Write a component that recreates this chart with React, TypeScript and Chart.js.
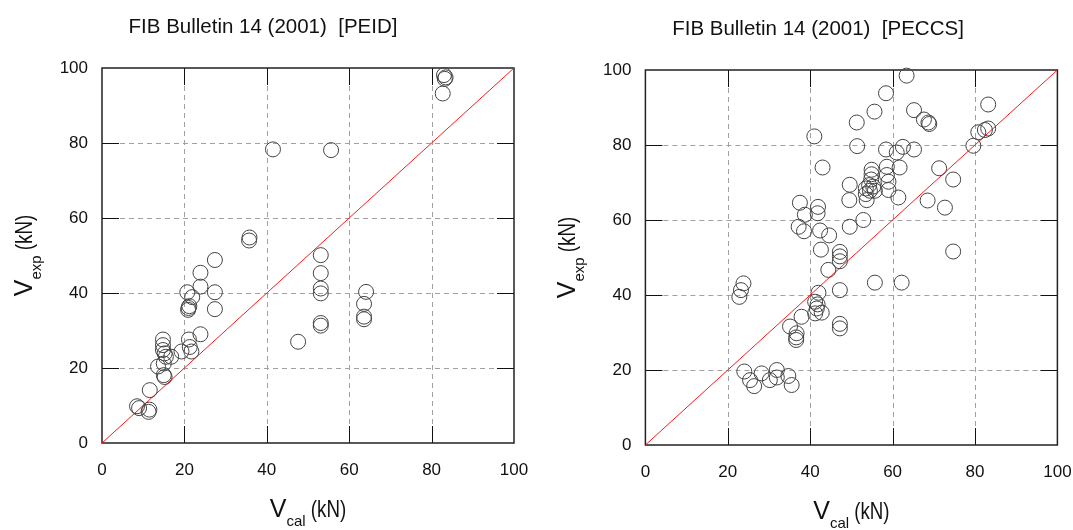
import React, { useEffect, useRef } from "react";
import Chart from "chart.js/auto";

// ---- Data ----
const peidCal = [
  8.5, 9.0, 11.3, 11.5, 11.6, 13.6, 15.0, 15.2, 15.0, 15.5, 14.8, 14.8, 14.8, 15.2, 16.8,
  19.3, 21.1, 21.3, 21.7, 23.9, 20.9, 21.0, 21.2, 21.9, 20.7, 23.9, 23.9, 27.4, 27.4, 27.4,
  35.7, 35.8, 41.5, 47.6, 53.1, 53.1, 53.1, 53.1, 53.1, 53.1, 64.1, 63.6, 63.6, 63.6, 55.6,
  83.0, 83.4, 83.2, 82.7,
];
const peidExp = [
  9.8, 9.3, 8.3, 8.9, 14.1, 20.4, 18.1, 17.6, 21.2, 23.0, 24.8, 26.1, 27.6, 23.9, 23.0,
  24.4, 27.6, 25.6, 24.4, 29.0, 35.5, 36.0, 36.5, 38.9, 40.2, 41.7, 45.4, 48.8, 40.2, 35.7,
  54.0, 54.8, 78.3, 27.0, 50.1, 45.3, 41.2, 39.9, 32.0, 31.3, 40.3, 37.1, 33.7, 33.0, 78.1,
  98.1, 97.5, 97.1, 93.2,
];

const peccsCal = [
  63.4, 58.4, 55.6, 51.3, 65.2, 67.6, 68.7, 68.9, 83.2, 80.8, 82.4, 83.2, 79.6, 41.0, 51.4,
  58.4, 61.0, 62.5, 65.2, 43.0, 58.6, 58.6, 61.7, 71.3, 74.7,
  54.9, 54.9, 54.8, 54.3, 55.3, 53.5, 54.5, 55.7, 53.5, 53.7,
  49.6, 49.5, 59.0, 59.0, 61.4, 68.5, 72.7, 52.9, 49.6, 74.7,
  37.5, 41.9, 41.8, 38.7, 37.2, 38.5, 42.4, 44.6, 42.6, 47.2, 47.2, 47.2,
  44.4, 47.2, 42.0, 41.2, 41.8, 41.6, 42.8, 41.2, 37.9, 35.1, 36.7, 36.6, 36.6, 47.2, 47.2,
  55.7, 62.2, 23.8, 23.2, 22.8,
  24.0, 25.4, 26.4, 28.2, 30.2, 31.9, 31.9, 34.7, 35.5,
];
const peccsExp = [
  98.5, 93.8, 88.9, 86.0, 89.3, 86.8, 86.0, 85.6, 90.8, 83.4, 84.0, 84.4, 79.8, 82.3, 79.7,
  78.8, 78.0, 79.5, 78.8, 74.0, 74.2, 72.0, 74.0, 73.8, 70.8,
  73.4, 72.2, 70.8, 69.3, 68.9, 68.4, 67.8, 67.8, 66.9, 65.3,
  69.4, 65.3, 70.2, 68.0, 66.0, 65.2, 63.3, 60.0, 58.2, 51.6,
  64.6, 63.5, 61.8, 61.4, 58.2, 57.0, 57.2, 55.9, 52.1, 51.5, 50.3, 49.0,
  46.7, 41.3, 40.6, 38.2, 37.5, 36.4, 35.3, 35.1, 34.2, 31.6, 29.8, 28.7, 28.0, 32.3, 31.1,
  43.3, 43.3, 43.1, 41.3, 39.5,
  19.6, 17.3, 15.7, 19.1, 17.3, 20.0, 18.0, 18.4, 16.0,
];

const axisMin = 0;
const axisMax = 100;
const axisStep = 20;
const gridValues = [20, 40, 60, 80];
const diagonal = [0, 100];

const titleLeft = "FIB Bulletin 14 (2001)  [PEID]";
const titleRight = "FIB Bulletin 14 (2001)  [PECCS]";

const FONT = '"Liberation Sans", Arial, sans-serif';
const CANVAS_W = 560;
const CANVAS_H = 530;

type Part = { text: string; size: number; dy: number; sx: number };
const labelParts = (sub: string): Part[] => [
  { text: "V", size: 25, dy: 0, sx: 1 },
  { text: sub, size: 15, dy: 9, sx: 1 },
  { text: " (kN)", size: 24, dy: 0, sx: 0.78 },
];

function drawParts(ctx: CanvasRenderingContext2D, parts: Part[]) {
  let total = 0;
  const widths = parts.map((p) => {
    ctx.font = `${p.size}px ${FONT}`;
    const w = ctx.measureText(p.text).width * p.sx;
    total += w;
    return w;
  });
  let cx = -total / 2;
  parts.forEach((p, i) => {
    ctx.save();
    ctx.font = `${p.size}px ${FONT}`;
    ctx.translate(cx, p.dy);
    ctx.scale(p.sx, 1);
    ctx.fillText(p.text, 0, 0);
    ctx.restore();
    cx += widths[i];
  });
}

function makeDecor(title: string, titleX: number, titleY: number) {
  return {
    id: "decor",
    beforeDatasetsDraw(chart: any) {
      const { ctx, chartArea: a, scales } = chart;
      const xs = scales.x;
      const ys = scales.y;
      ctx.save();
      // dashed grid
      ctx.strokeStyle = "#a0a0a0";
      ctx.lineWidth = 1;
      ctx.setLineDash([5, 4]);
      for (const v of gridValues) {
        const px = Math.round(xs.getPixelForValue(v)) + 0.5;
        ctx.beginPath();
        ctx.moveTo(px, a.top);
        ctx.lineTo(px, a.bottom);
        ctx.stroke();
        const py = Math.round(ys.getPixelForValue(v)) + 0.5;
        ctx.beginPath();
        ctx.moveTo(a.left, py);
        ctx.lineTo(a.right, py);
        ctx.stroke();
      }
      ctx.setLineDash([]);
      // inner ticks
      ctx.strokeStyle = "#111";
      ctx.lineWidth = 1;
      const tl = 17;
      for (const v of gridValues) {
        const px = Math.round(xs.getPixelForValue(v)) + 0.5;
        ctx.beginPath();
        ctx.moveTo(px, a.bottom);
        ctx.lineTo(px, a.bottom - tl);
        ctx.moveTo(px, a.top);
        ctx.lineTo(px, a.top + tl);
        ctx.stroke();
        const py = Math.round(ys.getPixelForValue(v)) + 0.5;
        ctx.beginPath();
        ctx.moveTo(a.left, py);
        ctx.lineTo(a.left + tl, py);
        ctx.moveTo(a.right, py);
        ctx.lineTo(a.right - tl, py);
        ctx.stroke();
      }
      // frame
      ctx.strokeStyle = "#222";
      ctx.lineWidth = 1.5;
      ctx.strokeRect(a.left, a.top, a.right - a.left, a.bottom - a.top);
      ctx.restore();
    },
    afterDraw(chart: any) {
      const { ctx, chartArea: a } = chart;
      ctx.save();
      ctx.fillStyle = "#111";
      ctx.textBaseline = "alphabetic";
      ctx.textAlign = "left";
      // title
      ctx.font = `20.5px ${FONT}`;
      const tw = ctx.measureText(title).width;
      ctx.fillText(title, titleX - tw / 2, titleY);
      // x label
      ctx.save();
      ctx.translate((a.left + a.right) / 2, a.bottom + 74);
      drawParts(ctx, labelParts("cal"));
      ctx.restore();
      // y label
      ctx.save();
      ctx.translate(a.left - 70, (a.top + a.bottom) / 2);
      ctx.rotate(-Math.PI / 2);
      drawParts(ctx, labelParts("exp"));
      ctx.restore();
      ctx.restore();
    },
  };
}

function buildConfig(
  cal: number[],
  exp: number[],
  yAxisWidth: number,
  xAxisHeight: number,
  padRight: number,
  padTop: number,
  title: string,
  titleX: number,
  titleY: number
): any {
  const points = cal.map((c, i) => ({ x: c, y: exp[i] }));
  const line = diagonal.map((v) => ({ x: v, y: v }));
  const tickFont = { family: FONT, size: 17 };
  return {
    type: "scatter",
    data: {
      datasets: [
        {
          type: "line",
          data: line,
          borderColor: "#ff1a1a",
          borderWidth: 1,
          pointRadius: 0,
          fill: false,
          order: 2,
        },
        {
          type: "scatter",
          data: points,
          pointRadius: 7.5,
          pointHoverRadius: 7.5,
          borderColor: "#444444",
          backgroundColor: "rgba(0,0,0,0)",
          borderWidth: 1,
          clip: false,
          order: 1,
        },
      ],
    },
    options: {
      animation: false,
      responsive: false,
      devicePixelRatio: 1,
      events: [],
      layout: { padding: { left: 0, right: padRight, top: padTop, bottom: 0 } },
      plugins: { legend: { display: false }, tooltip: { enabled: false }, title: { display: false } },
      scales: {
        x: {
          type: "linear",
          min: axisMin,
          max: axisMax,
          ticks: { stepSize: axisStep, padding: 17, color: "#111", font: tickFont, maxRotation: 0 },
          grid: { display: false, drawTicks: false },
          border: { display: false },
          afterFit: (s: any) => {
            s.height = xAxisHeight;
          },
        },
        y: {
          type: "linear",
          min: axisMin,
          max: axisMax,
          ticks: { stepSize: axisStep, padding: 14, color: "#111", font: tickFont },
          grid: { display: false, drawTicks: false },
          border: { display: false },
          afterFit: (s: any) => {
            s.width = yAxisWidth;
          },
        },
      },
    },
    plugins: [makeDecor(title, titleX, titleY)],
  };
}

const RIGHT_OFFSET = 540;

export default function App() {
  const leftRef = useRef<HTMLCanvasElement | null>(null);
  const rightRef = useRef<HTMLCanvasElement | null>(null);

  useEffect(() => {
    document.body.style.margin = "0";
    const charts: Chart[] = [];
    if (leftRef.current) {
      charts.push(
        new Chart(
          leftRef.current,
          buildConfig(peidCal, peidExp, 102, CANVAS_H - 443, CANVAS_W - 514, 68, titleLeft, 263, 32.5)
        )
      );
    }
    if (rightRef.current) {
      charts.push(
        new Chart(
          rightRef.current,
          buildConfig(
            peccsCal,
            peccsExp,
            645.4 - RIGHT_OFFSET,
            CANVAS_H - 445,
            CANVAS_W - (1057.4 - RIGHT_OFFSET),
            70,
            titleRight,
            818 - RIGHT_OFFSET,
            35
          )
        )
      );
    }
    return () => charts.forEach((c) => c.destroy());
  }, []);

  return (
    <div
      style={{
        position: "fixed",
        left: 0,
        top: 0,
        width: 1073,
        height: 530,
        overflow: "hidden",
        background: "#fff",
      }}
    >
      <canvas
        ref={leftRef}
        width={CANVAS_W}
        height={CANVAS_H}
        style={{ position: "absolute", left: 0, top: 0, width: CANVAS_W, height: CANVAS_H }}
      />
      <canvas
        ref={rightRef}
        width={CANVAS_W}
        height={CANVAS_H}
        style={{ position: "absolute", left: RIGHT_OFFSET, top: 0, width: CANVAS_W, height: CANVAS_H }}
      />
    </div>
  );
}
